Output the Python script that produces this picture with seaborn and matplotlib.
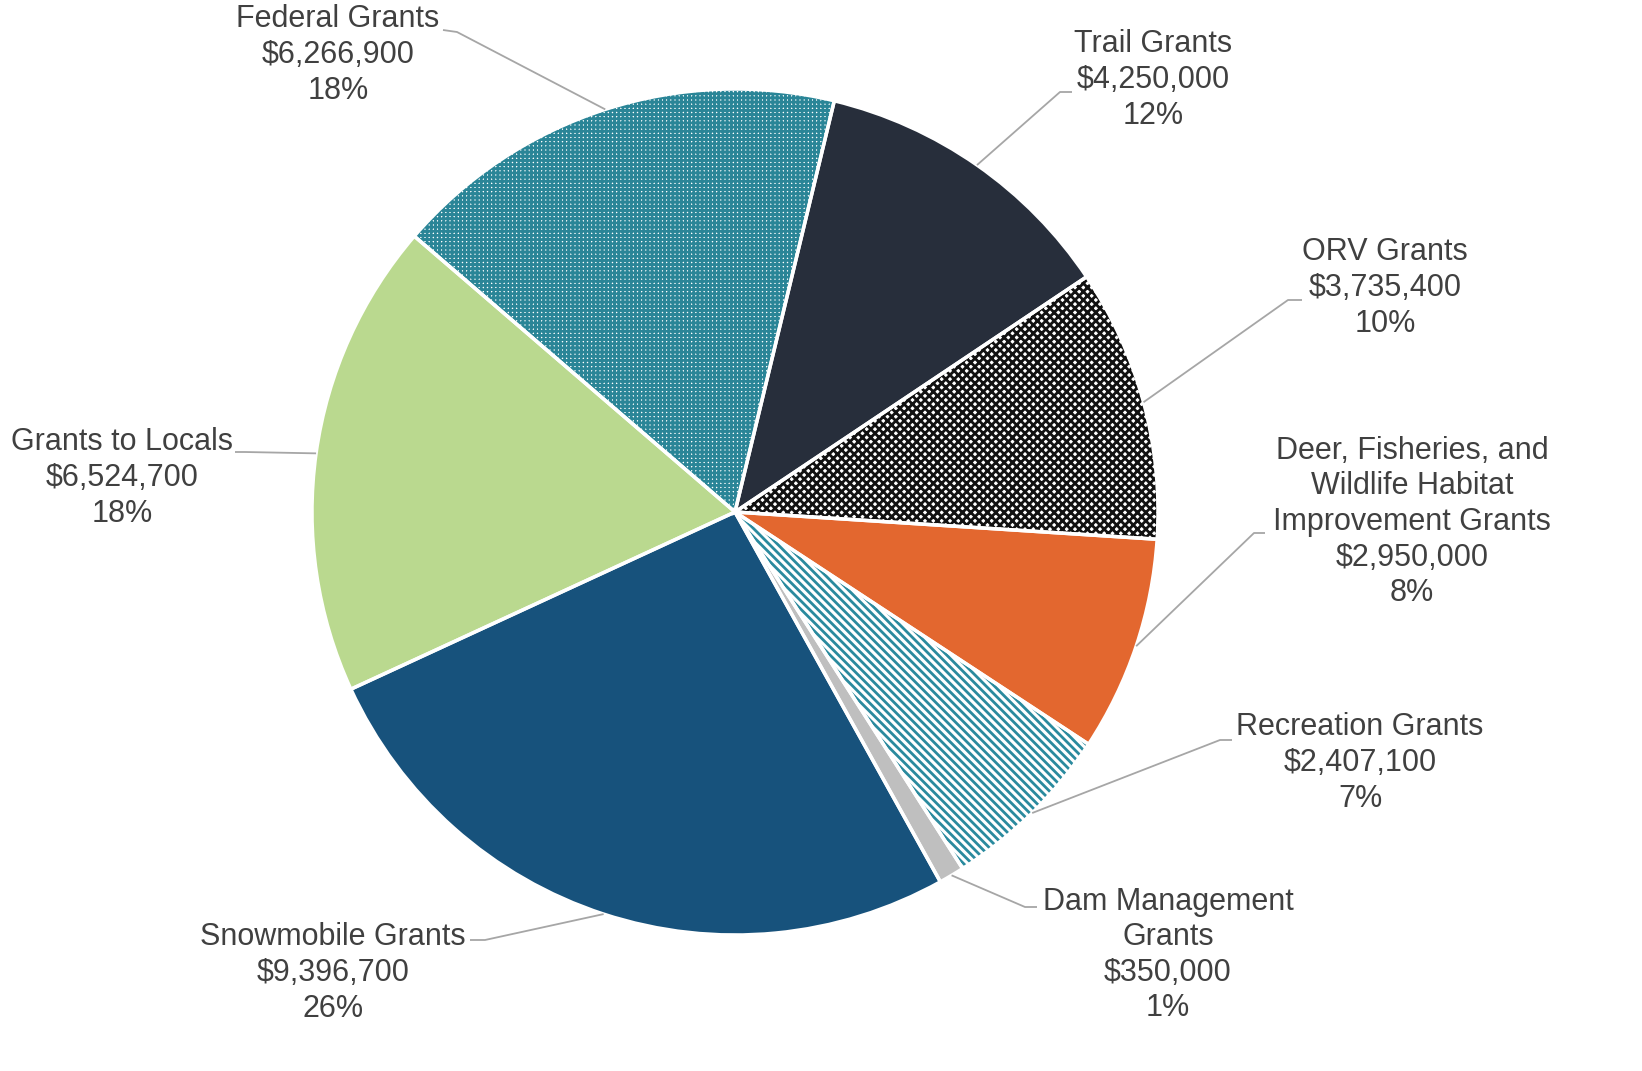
import matplotlib
matplotlib.use('Agg')
import matplotlib.pyplot as plt
import seaborn as sns
import numpy as np

# dados do grafico
categorias = ['Federal Grants', 'Trail Grants', 'ORV Grants',
              'Deer, Fisheries, and\nWildlife Habitat\nImprovement Grants',
              'Recreation Grants', 'Dam Management\nGrants',
              'Snowmobile Grants', 'Grants to Locals']
valores = [6266900, 4250000, 3735400, 2950000, 2407100, 350000, 9396700, 6524700]
percentuais = ['18%', '12%', '10%', '8%', '7%', '1%', '26%', '18%']

# estilos de cada fatia
cores_fundo = ['white', '#272E3B', 'white', '#E3672F', 'white', '#BFBFBF', '#17527C', '#BAD98F']
hachuras = ['++++', None, 'xxxx', None, '\\\\\\\\', None, None, None]
cores_hachura = ['#2A8597', None, '#111111', None, '#2A8A9E', None, None, None]

# posicoes dos rotulos em pixels: centro do texto e o trecho horizontal da linha guia
pos_texto = [(338, 55), (1153, 80), (1385, 288), (1412, 522),
             (1360, 763), (1168, 955), (333, 973), (122, 478)]
guia = [((443, 30), (457, 32)), ((1072, 92), (1060, 92)), ((1302, 300), (1288, 300)),
        ((1265, 533), (1254, 533)), ((1232, 740), (1220, 740)), ((1037, 907), (1025, 907)),
        ((470, 940), (485, 940)), ((235, 452), (245, 452))]

W, H = 1642, 1071
cx, cy, R = 735, 512, 423

sns.set_theme(style='white')
plt.rcParams['font.family'] = ['Liberation Sans', 'DejaVu Sans']
plt.rcParams['hatch.linewidth'] = 2.0

fig = plt.figure(figsize=(W / 100, H / 100), dpi=100)
ax = fig.add_axes([0, 0, 1, 1])
ax.axis('off')


def px(p):
    return ((p[0] - cx) / R, (cy - p[1]) / R)


fatias, _ = ax.pie(valores, startangle=139.3, counterclock=False, radius=1,
                   colors=cores_fundo, wedgeprops=dict(linewidth=0), center=(0, 0))
for f, h, c in zip(fatias, hachuras, cores_hachura):
    if h:
        f.set_hatch(h)
        f.set_edgecolor(c)
        f.set_linewidth(0)

# bordas brancas por cima
ax.pie(valores, startangle=139.3, counterclock=False, radius=1,
       wedgeprops=dict(facecolor='none', edgecolor='white', linewidth=2.5), center=(0, 0))
ax.set_xlim(-cx / R, (W - cx) / R)
ax.set_ylim(-(H - cy) / R, cy / R)
ax.set_aspect('auto')

for f, cat, v, p, t, g in zip(fatias, categorias, valores, percentuais, pos_texto, guia):
    ang = np.deg2rad((f.theta1 + f.theta2) / 2)
    ponta = (np.cos(ang), np.sin(ang))
    a, b = px(g[0]), px(g[1])
    ax.plot([a[0], b[0], ponta[0]], [a[1], b[1], ponta[1]], color='#A6A6A6', lw=1.3,
            solid_capstyle='butt')
    tx, ty = px(t)
    ax.text(tx, ty, f'{cat}\n${v:,.0f}\n{p}', ha='center', va='center',
            fontsize=22, color='#404040', linespacing=1.24)

fig.savefig('out.png', dpi=100)
